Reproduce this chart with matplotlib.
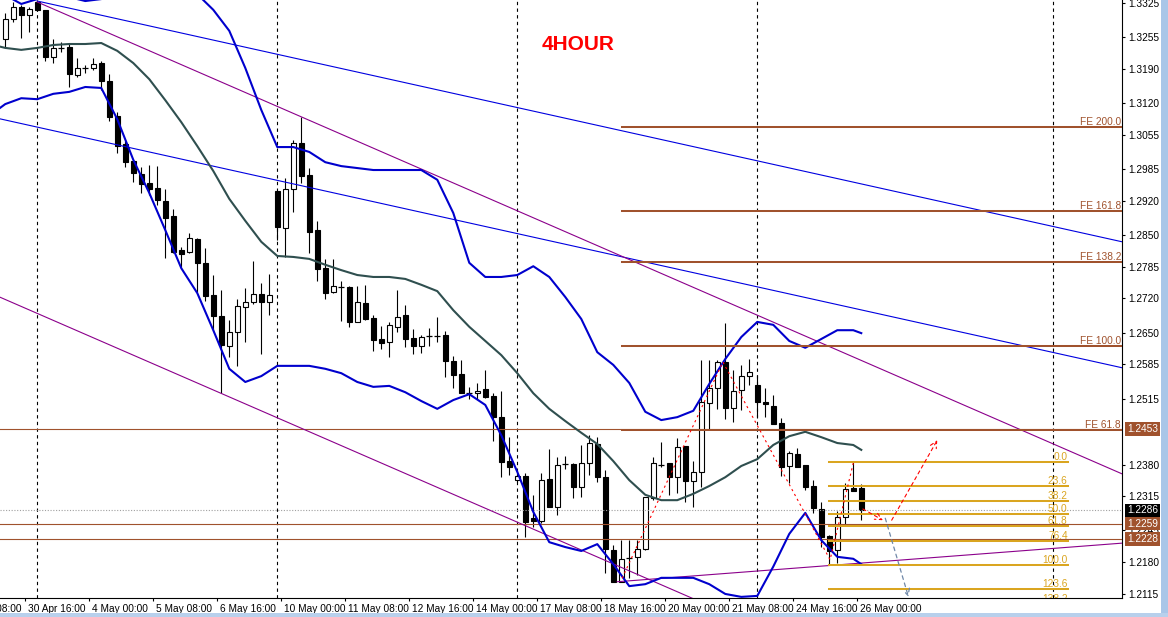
import matplotlib
matplotlib.use('Agg')
import matplotlib.pyplot as plt
import matplotlib.transforms as mtransforms
from matplotlib.patches import Rectangle
import numpy as np

plt.rcParams['font.family'] = ['Liberation Sans', 'DejaVu Sans']

# ---------------- data ----------------
opens = [1.3251, 1.3292, 1.3317, 1.3300, 1.3327, 1.3311, 1.3214, 1.3233, 1.3235, 1.3177,
         1.3192, 1.3191, 1.3202, 1.3165, 1.3093, 1.3036, 1.3001, 1.2975, 1.2956, 1.2946,
         1.2919, 1.2889, 1.2819, 1.2815, 1.2842, 1.2792, 1.2727, 1.2684, 1.2622, 1.2651,
         1.2702, 1.2713, 1.2729, 1.2713, 1.2940, 1.2864, 1.2944, 1.3038, 1.2973, 1.2860,
         1.2782, 1.2733, 1.2743, 1.2743, 1.2672, 1.2711, 1.2680, 1.2637, 1.2631, 1.2661,
         1.2686, 1.2639, 1.2622, 1.2643, 1.2643, 1.2645, 1.2592, 1.2565, 1.2527, 1.2526,
         1.2534, 1.2520, 1.2477, 1.2387, 1.2348, 1.2356, 1.2270, 1.2264, 1.2350, 1.2293,
         1.2381, 1.2381, 1.2334, 1.2383, 1.2422, 1.2354, 1.2205, 1.2139, 1.2188, 1.2190,
         1.2207, 1.2311, 1.2379, 1.2383, 1.2354, 1.2418, 1.2346, 1.2364, 1.2506, 1.2536,
         1.2590, 1.2495, 1.2532, 1.2561, 1.2543, 1.2508, 1.2500, 1.2465, 1.2377, 1.2401,
         1.2379, 1.2336, 1.2289, 1.2233, 1.2205, 1.2272, 1.2332, 1.2332]
highs = [1.3304, 1.3327, 1.3321, 1.3317, 1.3331, 1.3311, 1.3251, 1.3245, 1.3243, 1.3212,
         1.3198, 1.3212, 1.3206, 1.3180, 1.3102, 1.3042, 1.3001, 1.2989, 1.2993, 1.2991,
         1.2944, 1.2903, 1.2825, 1.2854, 1.2844, 1.2823, 1.2768, 1.2737, 1.2676, 1.2719,
         1.2741, 1.2797, 1.2751, 1.2770, 1.2940, 1.2966, 1.3044, 1.3091, 1.2987, 1.2878,
         1.2801, 1.2801, 1.2756, 1.2745, 1.2745, 1.2747, 1.2686, 1.2663, 1.2672, 1.2737,
         1.2707, 1.2657, 1.2645, 1.2659, 1.2682, 1.2653, 1.2602, 1.2594, 1.2538, 1.2547,
         1.2573, 1.2526, 1.2530, 1.2436, 1.2362, 1.2362, 1.2317, 1.2362, 1.2411, 1.2395,
         1.2397, 1.2383, 1.2420, 1.2440, 1.2436, 1.2369, 1.2215, 1.2225, 1.2225, 1.2225,
         1.2313, 1.2395, 1.2426, 1.2383, 1.2434, 1.2418, 1.2387, 1.2594, 1.2594, 1.2594,
         1.2670, 1.2573, 1.2584, 1.2596, 1.2563, 1.2536, 1.2522, 1.2475, 1.2407, 1.2413,
         1.2379, 1.2348, 1.2303, 1.2235, 1.2285, 1.2342, 1.2385, 1.2340]
lows = [1.3233, 1.3286, 1.3253, 1.3265, 1.3308, 1.3206, 1.3202, 1.3225, 1.3153, 1.3173,
        1.3182, 1.3188, 1.3147, 1.3083, 1.3018, 1.2989, 1.2958, 1.2936, 1.2932, 1.2911,
        1.2803, 1.2813, 1.2784, 1.2813, 1.2733, 1.2715, 1.2655, 1.2526, 1.2600, 1.2582,
        1.2631, 1.2709, 1.2606, 1.2686, 1.2839, 1.2805, 1.2897, 1.2956, 1.2813, 1.2756,
        1.2719, 1.2731, 1.2674, 1.2661, 1.2672, 1.2676, 1.2612, 1.2616, 1.2600, 1.2651,
        1.2620, 1.2606, 1.2608, 1.2622, 1.2631, 1.2559, 1.2536, 1.2526, 1.2514, 1.2514,
        1.2516, 1.2428, 1.2354, 1.2358, 1.2344, 1.2231, 1.2252, 1.2260, 1.2293, 1.2277,
        1.2371, 1.2311, 1.2313, 1.2358, 1.2344, 1.2158, 1.2139, 1.2139, 1.2147, 1.2153,
        1.2205, 1.2307, 1.2375, 1.2317, 1.2321, 1.2303, 1.2293, 1.2334, 1.2452, 1.2493,
        1.2473, 1.2467, 1.2491, 1.2543, 1.2477, 1.2477, 1.2463, 1.2356, 1.2342, 1.2375,
        1.2328, 1.2280, 1.2211, 1.2174, 1.2178, 1.2254, 1.2326, 1.2266]
closes = [1.3292, 1.3317, 1.3300, 1.3313, 1.3311, 1.3214, 1.3233, 1.3232, 1.3180, 1.3192,
          1.3191, 1.3200, 1.3165, 1.3091, 1.3032, 1.2999, 1.2977, 1.2954, 1.2944, 1.2921,
          1.2884, 1.2815, 1.2811, 1.2844, 1.2792, 1.2725, 1.2684, 1.2624, 1.2651, 1.2704,
          1.2713, 1.2729, 1.2713, 1.2727, 1.2866, 1.2944, 1.3038, 1.2971, 1.2856, 1.2780,
          1.2731, 1.2745, 1.2742, 1.2672, 1.2713, 1.2678, 1.2635, 1.2629, 1.2665, 1.2682,
          1.2637, 1.2622, 1.2641, 1.2642, 1.2642, 1.2592, 1.2563, 1.2526, 1.2526, 1.2530,
          1.2518, 1.2477, 1.2385, 1.2375, 1.2356, 1.2262, 1.2264, 1.2348, 1.2293, 1.2379,
          1.2380, 1.2334, 1.2383, 1.2424, 1.2354, 1.2207, 1.2139, 1.2186, 1.2187, 1.2207,
          1.2313, 1.2383, 1.2378, 1.2354, 1.2415, 1.2346, 1.2364, 1.2508, 1.2536, 1.2590,
          1.2495, 1.2530, 1.2561, 1.2569, 1.2508, 1.2504, 1.2463, 1.2375, 1.2403, 1.2375,
          1.2334, 1.2291, 1.2231, 1.2203, 1.2272, 1.2330, 1.2326, 1.2286]

# Bollinger bands
bb_bars = [-1, 0, 2, 4, 6, 8, 10, 12, 14, 16, 18, 20, 22, 24, 26, 28, 30, 32, 34, 36,
           38, 40, 42, 44, 46, 48, 50, 52, 54, 56, 58, 60, 62, 64, 66, 68, 70, 72, 74, 76,
           78, 80, 82, 84, 86, 88, 90, 92, 94, 96, 98, 100, 102, 104, 106, 107]
bb_upper = [1.3352, 1.3341, 1.3323, 1.3333, 1.3343, 1.3337, 1.3329, 1.3333, 1.3352, 1.3366,
            1.3372, 1.3366, 1.3354, 1.3343, 1.3311, 1.3268, 1.3192, 1.3106, 1.3030, 1.3030,
            1.3020, 1.2999, 1.2991, 1.2987, 1.2983, 1.2983, 1.2983, 1.2983, 1.2963, 1.2895,
            1.2793, 1.2764, 1.2764, 1.2768, 1.2786, 1.2764, 1.2723, 1.2678, 1.2610, 1.2584,
            1.2547, 1.2488, 1.2471, 1.2477, 1.2490, 1.2545, 1.2596, 1.2641, 1.2672, 1.2666,
            1.2633, 1.2619, 1.2637, 1.2655, 1.2655, 1.2649]
bb_middle = [1.3237, 1.3233, 1.3229, 1.3233, 1.3239, 1.3241, 1.3241, 1.3243, 1.3227, 1.3202,
             1.3169, 1.3126, 1.3081, 1.3032, 1.2981, 1.2924, 1.2879, 1.2836, 1.2807, 1.2805,
             1.2801, 1.2789, 1.2778, 1.2768, 1.2764, 1.2764, 1.2760, 1.2748, 1.2735, 1.2696,
             1.2662, 1.2633, 1.2604, 1.2567, 1.2526, 1.2494, 1.2469, 1.2445, 1.2422, 1.2387,
             1.2348, 1.2318, 1.2307, 1.2307, 1.2320, 1.2336, 1.2354, 1.2377, 1.2391, 1.2420,
             1.2438, 1.2447, 1.2436, 1.2424, 1.2420, 1.2410]
bb_lower = [1.3106, 1.3118, 1.3130, 1.3128, 1.3139, 1.3143, 1.3153, 1.3151, 1.3087, 1.3004,
            1.2936, 1.2860, 1.2782, 1.2731, 1.2655, 1.2576, 1.2549, 1.2561, 1.2582, 1.2582,
            1.2582, 1.2576, 1.2567, 1.2549, 1.2539, 1.2541, 1.2528, 1.2510, 1.2494, 1.2512,
            1.2524, 1.2502, 1.2440, 1.2365, 1.2283, 1.2221, 1.2211, 1.2203, 1.2217, 1.2176,
            1.2131, 1.2135, 1.2148, 1.2148, 1.2148, 1.2135, 1.2115, 1.2109, 1.2111, 1.2171,
            1.2238, 1.2281, 1.2225, 1.2191, 1.2187, 1.2176]

# trend lines: (anchor1, anchor2), drawn as rays to the right
blue_channel_upper = ((4, 1.3329), (100, 1.2980))
blue_channel_lower = ((-1, 1.3089), (100, 1.2722))
purple_channel_upper = ((4, 1.3327), (100, 1.2643))
purple_channel_lower = ((-1, 1.2725), (80, 1.2148))
purple_support = ((76.5, 1.2140), (130, 1.2207))

# Fibonacci expansion
fe_base = 1.2172
fe_range = 0.0450
fe_ratios = [0.618, 1.0, 1.382, 1.618, 2.0]
fe_names = ['FE 61.8', 'FE 100.0', 'FE 138.2', 'FE 161.8', 'FE 200.0']
fe_start_bar = 77.1

# Fibonacci retracement
fib_high = 1.2385
fib_low = 1.2174
fib_ratios = [0.0, 0.236, 0.382, 0.5, 0.618, 0.764, 1.0, 1.236, 1.382]
fib_names = ['0.0', '23.6', '38.2', '50.0', '61.8', '76.4', '100.0', '123.6', '138.2']
fib_bars = (103.0, 132.9)

# horizontal lines
hlines_full = [1.2453, 1.2259, 1.2228]
bid_price = 1.2286

# zigzag & projection arrows
zz_bars = [77.1, 89.7, 103.1, 106.0]
zz_prices = [1.2147, 1.2590, 1.2185, 1.2383]
red_arrows = [((107.2, 1.2289), (109.7, 1.2266)), ((110.8, 1.2266), (116.5, 1.2430))]
grey_arrow = ((110.0, 1.2270), (112.9, 1.2109))

# axes
price_ticks = [1.3325, 1.3255, 1.3190, 1.3120, 1.3055, 1.2985, 1.2920, 1.2850, 1.2785,
               1.2720, 1.2650, 1.2585, 1.2515, 1.2380, 1.2315, 1.2245, 1.2180, 1.2115]
time_tick_bars = [2, 10, 18, 26, 34, 42, 50, 58, 66, 74, 82, 90, 98, 106]
time_tick_labels = ['30 Apr 16:00', '4 May 00:00', '5 May 08:00', '6 May 16:00',
                    '10 May 00:00', '11 May 08:00', '12 May 16:00', '14 May 00:00',
                    '17 May 08:00', '18 May 16:00', '20 May 00:00', '21 May 08:00',
                    '24 May 16:00', '26 May 00:00']
partial_tick = (-6, '29 Apr 08:00')
separator_bars = [4, 34, 64, 94, 131]
axis_boxes = [(1.2453, '#A0522D'), (1.2286, '#000000'), (1.2259, '#A0522D'), (1.2228, '#A0522D')]

# ---------------- figure ----------------
W, H = 1168, 617
fig = plt.figure(figsize=(W / 100, H / 100), dpi=100)
fig.patch.set_facecolor('white')
ax = fig.add_axes([0, 19 / H, 1122 / W, 598 / H])
XMIN, XMAX = -0.66, 139.59
ax.set_xlim(XMIN, XMAX)
ax.set_ylim(1.21067, 1.33311)
ax.set_facecolor('white')


def px(dx, dy):
    return mtransforms.ScaledTranslation(dx / 100, dy / 100, fig.dpi_scale_trans)


SIENNA = '#A0522D'
GOLD = '#DAA520'

# separators
for b in separator_bars:
    ax.axvline(b, color='black', lw=0.8, ls=(0, (3, 3)), zorder=1)

# candles
for i, (o, h, l, c) in enumerate(zip(opens, highs, lows, closes)):
    ax.vlines(i, l, h, color='black', lw=0.8, zorder=2)
    if abs(c - o) < 0.00015:
        ax.hlines(o, i - 0.38, i + 0.38, color='black', lw=0.9, zorder=3)
    else:
        face = 'white' if c > o else 'black'
        ax.add_patch(Rectangle((i - 0.33, min(o, c)), 0.66, abs(c - o),
                               facecolor=face, edgecolor='black', lw=0.8, zorder=3))

# full width horizontal lines
for lv in hlines_full:
    ax.axhline(lv, color=SIENNA, lw=0.8, zorder=4)
ax.axhline(bid_price, color='#A0A0A0', lw=0.8, ls=(0, (1, 1.5)), zorder=4)

# trend lines (rays)
def ray(anchors, color):
    (x1, y1), (x2, y2) = anchors
    slope = (y2 - y1) / (x2 - x1)
    xe = XMAX + 1
    ax.plot([x1, xe], [y1, y1 + slope * (xe - x1)], color=color, lw=0.8, zorder=4)

ray(blue_channel_upper, '#0000E0')
ray(blue_channel_lower, '#0000E0')
ray(purple_channel_upper, '#8B008B')
ray(purple_channel_lower, '#8B008B')
ray(purple_support, '#8B008B')

# Bollinger bands
ax.plot(bb_bars, bb_upper, color='#0000CD', lw=1.5, zorder=5)
ax.plot(bb_bars, bb_lower, color='#0000CD', lw=1.5, zorder=5)
ax.plot(bb_bars, bb_middle, color='#2F4F4F', lw=1.5, zorder=5)

# Fibonacci expansion
for r, name in zip(fe_ratios, fe_names):
    lv = fe_base + r * fe_range
    ax.plot([fe_start_bar, XMAX + 1], [lv, lv], color=SIENNA, lw=1.45, zorder=6)
    ax.text(139.45, lv, name, color=SIENNA, fontsize=7.3, ha='right', va='baseline',
            transform=ax.transData + px(0, 2), zorder=7)

# Fibonacci retracement
for r, name in zip(fib_ratios, fib_names):
    lv = fib_high - r * (fib_high - fib_low)
    ax.plot(list(fib_bars), [lv, lv], color=GOLD, lw=1.45, zorder=6)
    ax.text(fib_bars[1] - 0.1, lv, name, color=GOLD, fontsize=7.3, ha='right', va='baseline',
            transform=ax.transData + px(0, 2), zorder=7, clip_on=True)

# zigzag
ax.plot(zz_bars, zz_prices, color='red', lw=0.8, ls=(0, (2, 3)), zorder=7)
for start, end in red_arrows:
    ax.annotate('', xy=end, xytext=start,
                arrowprops=dict(arrowstyle='->', color='red', lw=0.8, linestyle=(0, (3, 3)),
                                mutation_scale=12, shrinkA=0, shrinkB=0), zorder=7)
ax.annotate('', xy=grey_arrow[1], xytext=grey_arrow[0],
            arrowprops=dict(arrowstyle='->', color='#6F88A8', lw=0.9, linestyle=(0, (3, 3)),
                            mutation_scale=12, shrinkA=0, shrinkB=0), zorder=7,
            annotation_clip=False)

# title label
ax.text(71.6, 1.3239, '4HOUR', color='#FF0000', fontsize=15, fontweight='bold',
        ha='center', va='center', zorder=8)

# spines & ticks
for s in ['left', 'top']:
    ax.spines[s].set_visible(False)
for s in ['right', 'bottom']:
    ax.spines[s].set_color('black')
    ax.spines[s].set_linewidth(0.8)
ax.yaxis.tick_right()
ax.set_yticks(price_ticks)
ax.set_yticklabels([f'{v:.4f}' for v in price_ticks])
ax.tick_params(axis='y', direction='out', length=2.5, width=0.8, pad=2, labelsize=7.3,
               colors='black')
ax.set_xticks([b + 0.5 for b in time_tick_bars])
ax.set_xticklabels(time_tick_labels)
ax.tick_params(axis='x', direction='out', length=2.5, width=0.8, pad=1.5, labelsize=7.3,
               colors='black')
for lbl in ax.get_xticklabels():
    lbl.set_horizontalalignment('left')
    lbl.set_transform(lbl.get_transform() + px(3, 0))

ax.text(partial_tick[0] + 0.5, 0, partial_tick[1], fontsize=7.3, ha='left', va='top',
        transform=mtransforms.blended_transform_factory(ax.transData, ax.transAxes) + px(3, -5.6),
        clip_on=False)

# price boxes on the axis
box_tr = mtransforms.blended_transform_factory(ax.transAxes, ax.transData) + px(5, 0)
for lv, col in axis_boxes:
    ax.text(1.0, lv, f'{lv:.4f}', color='white', fontsize=7.3, ha='left', va='center',
            transform=box_tr, clip_on=False, zorder=10,
            bbox=dict(facecolor=col, edgecolor='none', pad=1.3))

# window chrome (scroll strips)
fig.patches.append(Rectangle((1161 / W, 0), 7 / W, 1, transform=fig.transFigure,
                             facecolor='#A9C6E8', edgecolor='none'))
fig.patches.append(Rectangle((0, 0), 1, 4 / H, transform=fig.transFigure,
                             facecolor='#B8D0EC', edgecolor='none'))

fig.savefig('out.png', dpi=100, facecolor='white')
